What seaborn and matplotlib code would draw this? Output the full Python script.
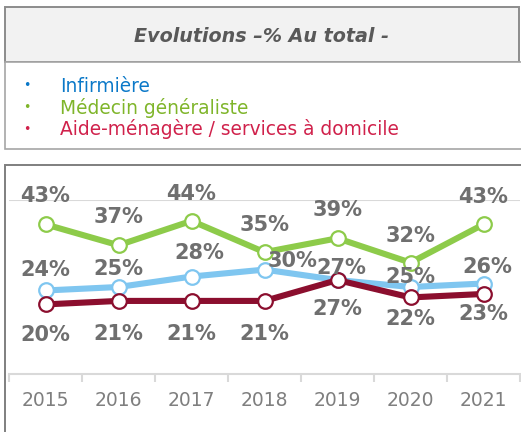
import numpy as np
import pandas as pd
import matplotlib
matplotlib.use("Agg")
import matplotlib.pyplot as plt
from matplotlib.patches import Rectangle
import seaborn as sns

years = ["2015", "2016", "2017", "2018", "2019", "2020", "2021"]
infirmiere = [24, 25, 28, 30, 27, 25, 26]
medecin = [43, 37, 44, 35, 39, 32, 43]
aide = [20, 21, 21, 21, 27, 22, 23]
series_names = ["Infirmière", "Médecin généraliste", "Aide-ménagère / services à domicile"]

# label offsets in pixels (dx, dy) per point
off_inf = [(0, 20), (0, 18), (8, 24), (28, 9), (4, 12), (0, 10), (4, 17)]
off_med = [(0, 28), (0, 28), (0, 27), (0, 27), (0, 28), (0, 27), (0, 27)]
off_aide = [(0, -31), (0, -33), (0, -33), (0, -33), (0, -29), (0, -22), (0, -20)]

line_colors = ["#7fc6f0", "#8dcb4a", "#8b0e2e"]
legend_colors = ["#0a78c8", "#7fb52a", "#d0214b"]

sns.set_theme(style="white")
plt.rcParams["font.family"] = ["DejaVu Sans"]

W, H = 521, 432
fig = plt.figure(figsize=(W / 100, H / 100), dpi=100)

def px_rect(x0, y0, x1, y1, **kw):
    # rectangle in pixel coords, y from top
    r = Rectangle((x0 / W, 1 - y1 / H), (x1 - x0) / W, (y1 - y0) / H,
                  transform=fig.transFigure, zorder=-1, **kw)
    fig.patches.append(r)

# title box
px_rect(5, 7, 519, 62, facecolor="#f2f2f2", edgecolor="#8c8c8c", linewidth=1.4)
fig.text(262 / W, 1 - 37 / H, "Evolutions \u2013% Au total -", ha="center", va="center",
         fontsize=13.8, fontweight="bold", fontstyle="italic", color="#595959")
# legend box
px_rect(5, 62, 530, 149, facecolor="white", edgecolor="#a6a6a6", linewidth=1.2)
for i, (name, c) in enumerate(zip(series_names, legend_colors)):
    y = 1 - (86 + i * 21.5) / H
    fig.text(27 / W, y, "\u2022", ha="center", va="center", fontsize=9, color=c)
    fig.text(60 / W, y, name, ha="left", va="center", fontsize=13.4, color=c)
# chart box
px_rect(5, 165, 530, 440, facecolor="white", edgecolor="#7f7f7f", linewidth=1.4)

ax = fig.add_axes([9 / W, 1 - 374 / H, (520 - 9) / W, (374 - 200) / H])
ax.set_facecolor("none")
ax.set_zorder(2)
x = np.arange(len(years))

df = pd.DataFrame({"x": np.tile(x, 3),
                   "val": infirmiere + medecin + aide,
                   "serie": np.repeat(series_names, len(years))})

for name, c in zip([series_names[1], series_names[0], series_names[2]],
                   [line_colors[1], line_colors[0], line_colors[2]]):
    sub = df[df["serie"] == name]
    sns.lineplot(data=sub, x="x", y="val", ax=ax, color=c, linewidth=4.4,
                 marker="o", markersize=10.5, markerfacecolor="white",
                 markeredgecolor=c, markeredgewidth=1.6, legend=False)

for vals, offs in [(medecin, off_med), (infirmiere, off_inf), (aide, off_aide)]:
    for xi, v, (dx, dy) in zip(x, vals, offs):
        ax.annotate(f"{v}%", (xi, v), xytext=(dx, dy), textcoords="offset pixels",
                    ha="center", va="center", fontsize=15, fontweight="bold",
                    color="#6f6f6f")

ax.set_xlim(-0.5, len(years) - 0.5)
ax.set_ylim(0, 50)
ax.set_yticks([50])
ax.yaxis.grid(True, color="#d9d9d9", linewidth=1.5)
ax.tick_params(axis="y", left=False, labelleft=False)
for s in ["top", "right", "left"]:
    ax.spines[s].set_visible(False)
ax.spines["bottom"].set_color("#d9d9d9")
ax.spines["bottom"].set_linewidth(1.5)
ax.set_xticks(x)
ax.set_xticklabels(years)
ax.set_xticks(np.arange(-0.5, len(years)), minor=True)
ax.tick_params(axis="x", which="major", length=0, pad=12, labelsize=13.5, labelcolor="#7f7f7f")
ax.tick_params(axis="x", which="minor", bottom=True, length=6, width=1.5, color="#d9d9d9",
               direction="out")
ax.set_xlabel("")
ax.set_ylabel("")
ax.set_axisbelow(True)

fig.savefig("out.png", dpi=100)
